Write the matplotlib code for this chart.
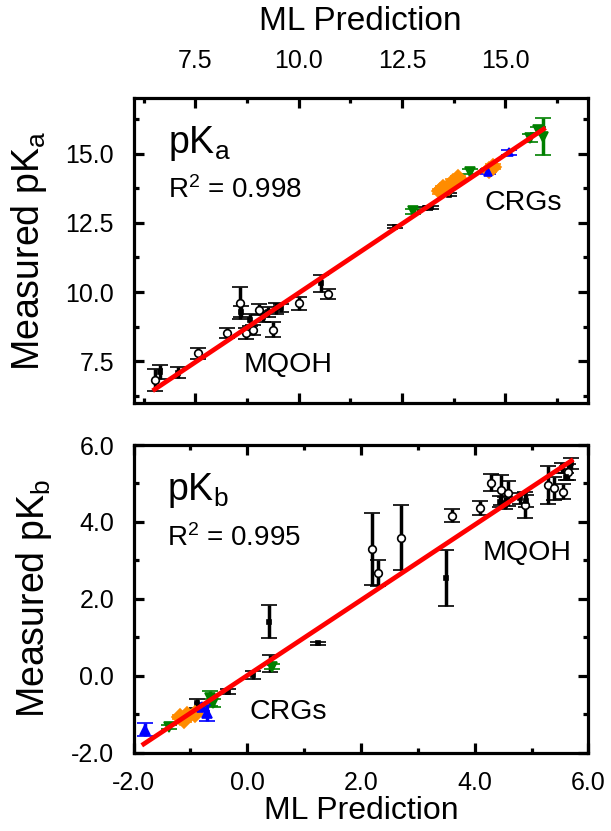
import numpy as np
import matplotlib
matplotlib.use("Agg")
import matplotlib.pyplot as plt
from matplotlib.ticker import MultipleLocator, FormatStrFormatter

plt.rcParams['font.family'] = ['Liberation Sans', 'DejaVu Sans']
plt.rcParams['mathtext.default'] = 'regular'

# ---- pKa panel data (ML prediction, measured, error) ----
pka_open_x = [6.53, 7.57, 8.27, 8.57, 8.73, 8.89, 9.05, 9.37, 10.00, 10.70]
pka_open_y = [6.83, 7.79, 8.54, 9.60, 8.52, 8.64, 9.36, 8.64, 9.60, 9.93]
pka_open_err = [0.38, 0.19, 0.18, 0.57, 0.20, 0.18, 0.20, 0.27, 0.23, 0.19]

pka_fill_x = [6.63, 7.07, 8.61, 8.81, 9.13, 9.25, 9.45, 9.58, 10.54, 12.32, 13.05, 13.21, 13.65]
pka_fill_y = [7.13, 7.09, 9.30, 9.00, 9.12, 9.30, 9.42, 9.42, 10.32, 12.36, 13.03, 13.06, 13.51]
pka_fill_err = [0.25, 0.20, 0.20, 0.22, 0.20, 0.18, 0.20, 0.15, 0.30, 0.05, 0.05, 0.05, 0.06]

pka_green_x = [12.76, 14.14, 15.59, 15.91, 15.80]
pka_green_y = [12.91, 14.35, 15.56, 15.61, 15.85]
pka_green_err = [0.08, 0.08, 0.15, 0.66, 0.10]

pka_orange_x = [13.41, 13.49, 13.65, 13.73, 13.85, 14.62, 14.70]
pka_orange_y = [13.63, 13.75, 13.80, 13.99, 14.11, 14.41, 14.53]
pka_orange_err = [0.08, 0.08, 0.08, 0.08, 0.08, 0.08, 0.08]

pka_blue_x = [14.58, 15.10]
pka_blue_y = [14.35, 15.04]
pka_blue_err = [0.1, 0.1]

pka_fit_x = [6.51, 15.93]
pka_fit_y = [6.49, 15.88]

# ---- pKb panel data ----
pkb_open_x = [2.20, 2.30, 2.70, 3.60, 4.09, 4.29, 4.47, 4.58, 4.88, 5.29, 5.40, 5.55, 5.65]
pkb_open_y = [3.29, 2.68, 3.59, 4.16, 4.36, 5.02, 4.83, 4.74, 4.44, 4.96, 4.88, 4.79, 5.30]
pkb_open_err = [0.94, 0.34, 0.85, 0.17, 0.19, 0.22, 0.40, 0.32, 0.33, 0.50, 0.30, 0.20, 0.20]

pkb_fill_x = [-0.88, -0.33, 0.11, 0.40, 0.39, 1.25, 3.50, 4.44, 4.53, 4.79, 4.90, 5.54, 5.61, 5.70]
pkb_fill_y = [-0.71, -0.41, 0.03, 0.33, 1.41, 0.85, 2.54, 4.53, 4.50, 4.61, 4.55, 5.40, 5.18, 5.52]
pkb_fill_err = [0.12, 0.06, 0.10, 0.22, 0.43, 0.04, 0.72, 0.15, 0.15, 0.15, 0.15, 0.12, 0.10, 0.15]

pkb_green_x = [-1.38, -0.65, -0.60, 0.43]
pkb_green_y = [-1.32, -0.58, -0.70, 0.24]
pkb_green_err = [0.05, 0.20, 0.10, 0.06]

pkb_orange_x = [-1.18, -1.12, -1.06, -0.91]
pkb_orange_y = [-1.06, -1.15, -1.02, -0.99]
pkb_orange_err = [0.05, 0.05, 0.05, 0.05]

pkb_blue_x = [-1.79, -0.71, -0.80]
pkb_blue_y = [-1.40, -0.97, -0.80]
pkb_blue_err = [0.17, 0.21, 0.10]

pkb_fit_x = [-1.82, 5.70]
pkb_fit_y = [-1.77, 5.59]


def draw_series(ax, x, y, err, color, marker, ms, mfc):
    ax.errorbar(x, y, yerr=err, fmt=marker, color=color, ms=ms, mfc=mfc,
                mec=color, mew=1.2, elinewidth=2.5, capsize=5.5, capthick=2.5,
                zorder=3)


def style_axes(ax, major, minor):
    for s in ax.spines.values():
        s.set_linewidth(2.3)
    ax.xaxis.set_major_locator(MultipleLocator(major))
    ax.xaxis.set_minor_locator(MultipleLocator(minor))
    ax.yaxis.set_major_locator(MultipleLocator(major))
    ax.yaxis.set_minor_locator(MultipleLocator(minor))
    ax.xaxis.set_major_formatter(FormatStrFormatter('%.1f'))
    ax.yaxis.set_major_formatter(FormatStrFormatter('%.1f'))
    ax.tick_params(which='both', direction='in', top=True, right=True,
                   width=2.3, labelsize=18)
    ax.tick_params(which='major', length=7)
    ax.tick_params(which='minor', length=3.5)
    ax.tick_params(axis='y', which='major', pad=14)


fig = plt.figure(figsize=(6.11, 8.31), dpi=100)
ax1 = fig.add_axes([0.2185, 0.515, 0.7435, 0.367])
ax2 = fig.add_axes([0.2185, 0.094, 0.7445, 0.3705])

# pKa panel
draw_series(ax1, pka_open_x, pka_open_y, pka_open_err, 'black', 'o', 5.5, 'white')
draw_series(ax1, pka_fill_x, pka_fill_y, pka_fill_err, 'black', 's', 3.5, 'black')
draw_series(ax1, pka_green_x, pka_green_y, pka_green_err, 'green', 'v', 7, 'green')
draw_series(ax1, pka_orange_x, pka_orange_y, pka_orange_err, '#ff8c00', 'D', 8, '#ff8c00')
draw_series(ax1, pka_blue_x, pka_blue_y, pka_blue_err, 'blue', '^', 6, 'blue')
ax1.plot(pka_fit_x, pka_fit_y, color='red', lw=3.4, zorder=4)
ax1.set_xlim(6, 17)
ax1.set_ylim(6, 17)
style_axes(ax1, 2.5, 1.25)
ax1.tick_params(axis='x', which='major', pad=18, labelbottom=False, labeltop=True)
ax1.xaxis.set_label_position('top')
ax1.set_xlabel('ML Prediction', fontsize=24, labelpad=14)
ax1.set_ylabel('Measured pK$_a$', fontsize=27, labelpad=12)
ax1.text(0.075, 0.82, 'pK$_a$', transform=ax1.transAxes, fontsize=27, va='baseline')
ax1.text(0.075, 0.672, 'R$^2$ = 0.998', transform=ax1.transAxes, fontsize=20, va='baseline')
ax1.text(0.773, 0.633, 'CRGs', transform=ax1.transAxes, fontsize=20.5, va='baseline')
ax1.text(0.242, 0.103, 'MQOH', transform=ax1.transAxes, fontsize=20.5, va='baseline')

# pKb panel
draw_series(ax2, pkb_open_x, pkb_open_y, pkb_open_err, 'black', 'o', 5.5, 'white')
draw_series(ax2, pkb_fill_x, pkb_fill_y, pkb_fill_err, 'black', 's', 3.5, 'black')
draw_series(ax2, pkb_green_x, pkb_green_y, pkb_green_err, 'green', 'v', 7, 'green')
draw_series(ax2, pkb_orange_x, pkb_orange_y, pkb_orange_err, '#ff8c00', 'D', 8, '#ff8c00')
draw_series(ax2, pkb_blue_x, pkb_blue_y, pkb_blue_err, 'blue', '^', 7, 'blue')
ax2.plot(pkb_fit_x, pkb_fit_y, color='red', lw=3.4, zorder=4)
ax2.set_xlim(-2, 6)
ax2.set_ylim(-2, 6)
style_axes(ax2, 2, 1)
ax2.tick_params(axis='x', which='major', pad=13)
ax2.set_xlabel('ML Prediction', fontsize=23, labelpad=1)
ax2.set_ylabel('Measured pK$_b$', fontsize=27, labelpad=12)
ax2.text(0.074, 0.821, 'pK$_b$', transform=ax2.transAxes, fontsize=27, va='baseline')
ax2.text(0.074, 0.672, 'R$^2$ = 0.995', transform=ax2.transAxes, fontsize=20, va='baseline')
ax2.text(0.768, 0.627, 'MQOH', transform=ax2.transAxes, fontsize=20.5, va='baseline')
ax2.text(0.254, 0.110, 'CRGs', transform=ax2.transAxes, fontsize=20.5, va='baseline')

fig.savefig('out.png', dpi=100)
